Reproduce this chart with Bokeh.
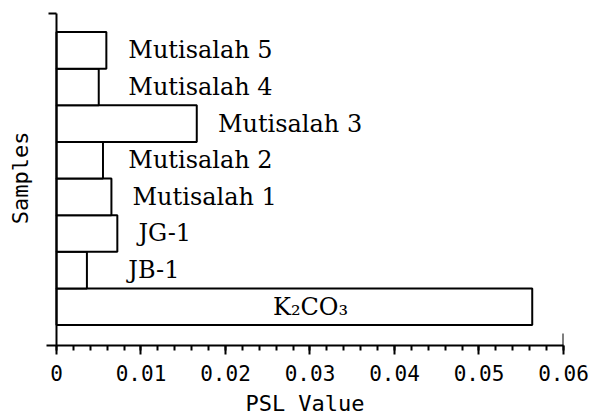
from bokeh.plotting import figure
from bokeh.models import FixedTicker, Range1d
from bokeh.core.properties import value
from bokeh.embed import file_html
from bokeh.resources import INLINE

# Data (bottom to top)
samples = ["K\u2082CO\u2083", "JB-1", "JG-1", "Mutisalah 1", "Mutisalah 2",
           "Mutisalah 3", "Mutisalah 4", "Mutisalah 5"]
psl_values = [0.0563, 0.0036, 0.0072, 0.0065, 0.0055, 0.0166, 0.0050, 0.0059]
x_ticks = [0, 0.01, 0.02, 0.03, 0.04, 0.05, 0.06]
x_tick_labels = ["0", "0.01", "0.02", "0.03", "0.04", "0.05", "0.06"]
x_minor_ticks = [round(i * 0.002, 3) for i in range(31)]

W, H = 595, 420
BR, BT, BB = 32, 10, 75
X_AXIS_MIN, X_END = 0.0, 0.06
px_per_x = 507.3 / (X_END - X_AXIS_MIN)
X_START = X_AXIS_MIN - 10 / px_per_x          # x axis line pokes out left of the y axis
BL = int(round(W - BR - (X_END - X_START) * px_per_x))

Y_START, Y_AXIS_TOP, Y_END = -0.06, 9.01, 9.09
px_per_y = (H - BT - BB) / (Y_END - Y_START)

ypos = list(range(1, len(samples) + 1))

p = figure(width=W, height=H, output_backend="svg", toolbar_location=None,
           x_range=Range1d(X_START, X_END), y_range=Range1d(Y_START, Y_END),
           min_border_left=BL, min_border_top=BT, min_border_right=BR, min_border_bottom=BB)
p.outline_line_color = None
p.xgrid.visible = False
p.ygrid.visible = False
p.background_fill_color = "white"

p.hbar(y=ypos, left=0, right=psl_values, height=1.0, fill_color="white",
       line_color="black", line_width=2)

# labels: outside the bar for small bars, inside for the large one
lab_x = []
for v in psl_values:
    if v > 0.03:
        lab_x.append(v * 0.455)
    else:
        lab_x.append(max(v, 0.006) + 0.0025)
p.text(x=lab_x, y=ypos, text=samples, text_font=value("DejaVu Serif"),
       text_font_size="24px", text_baseline="middle", text_align="left",
       text_color="black")

# vertical value axis line at x = 0 with its small top tick
p.segment(x0=[X_AXIS_MIN, X_AXIS_MIN - 8 / px_per_x],
          y0=[Y_START, Y_AXIS_TOP],
          x1=[X_AXIS_MIN, X_AXIS_MIN],
          y1=[Y_AXIS_TOP, Y_AXIS_TOP],
          line_color="black", line_width=2)
# upward end tick at x-axis end
p.segment(x0=[X_END], y0=[Y_START], x1=[X_END], y1=[Y_START + 12 / px_per_y],
          line_color="black", line_width=2)

xa = p.xaxis[0]
xa.ticker = FixedTicker(ticks=x_ticks, minor_ticks=x_minor_ticks)
xa.major_label_overrides = {t: l for t, l in zip(x_ticks, x_tick_labels)}
xa.axis_label = "PSL Value"
xa.axis_line_width = 2
xa.major_tick_line_width = 2
xa.minor_tick_line_width = 2
xa.major_tick_in = 0
xa.major_tick_out = 9
xa.minor_tick_in = 0
xa.minor_tick_out = 5
xa.major_label_standoff = 10
xa.major_label_text_font = "DejaVu Sans Mono"
xa.major_label_text_font_size = "21px"
xa.major_label_text_color = "black"
xa.axis_label_standoff = 7
xa.axis_label_text_font = "DejaVu Sans Mono"
xa.axis_label_text_font_size = "22px"
xa.axis_label_text_font_style = "normal"
xa.axis_label_text_color = "black"

ya = p.yaxis[0]
ya.ticker = FixedTicker(ticks=[], minor_ticks=[])
ya.major_label_standoff = 0
ya.axis_label = "Samples"
ya.axis_line_color = None
ya.major_tick_in = 0
ya.major_tick_out = 0
ya.minor_tick_out = 0
ya.axis_label_standoff = 14
ya.axis_label_text_font = "DejaVu Sans Mono"
ya.axis_label_text_font_size = "22px"
ya.axis_label_text_font_style = "normal"
ya.axis_label_text_color = "black"

open("out.html", "w").write(file_html(p, INLINE))
